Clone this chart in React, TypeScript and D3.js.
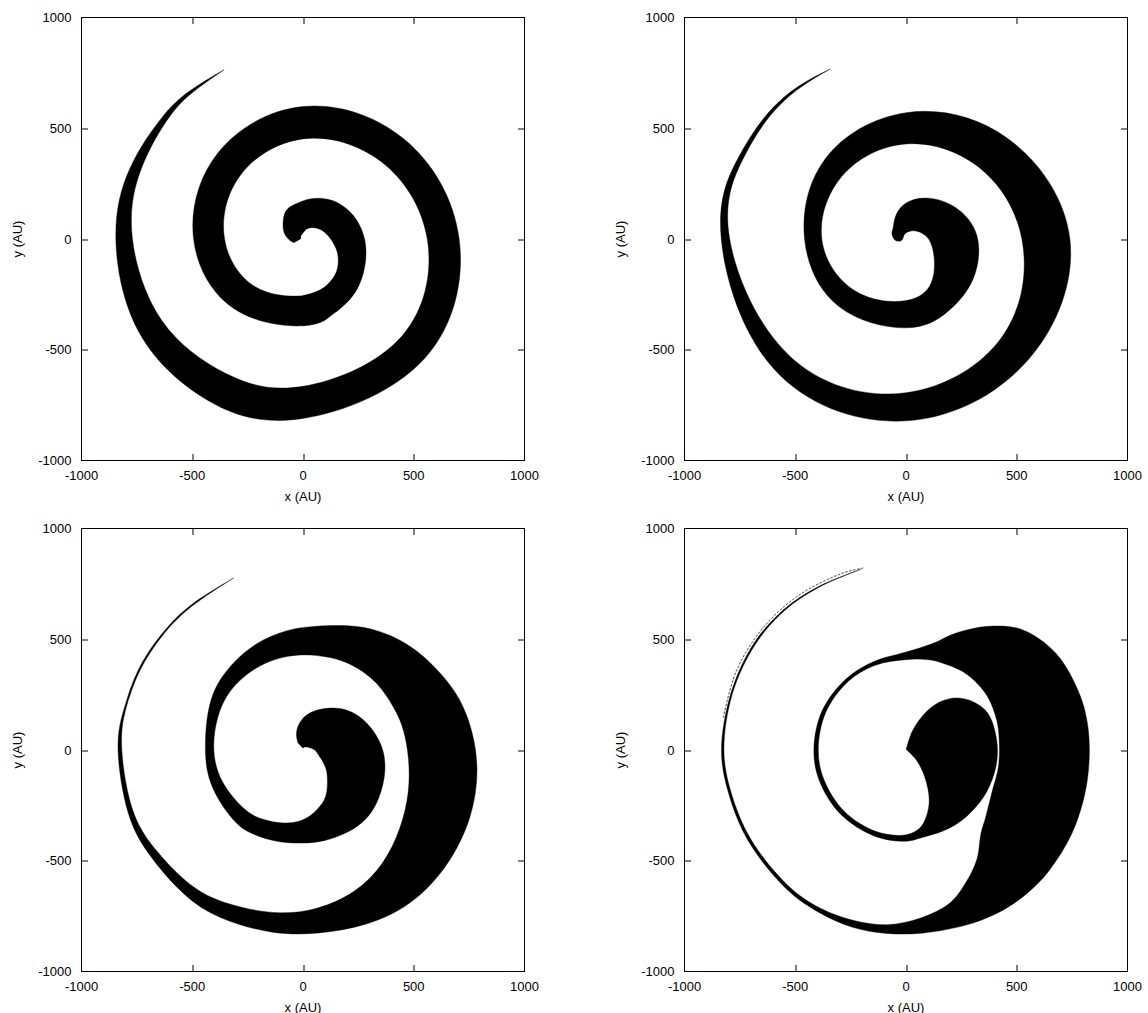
import React from "react";
import * as d3 from "d3";

// Axis setup shared by the four panels
const AXIS_TICKS = [-1000, -500, 0, 500, 1000];
const AXIS_DOMAIN = [-1000, 1000];
const X_TITLE = "x (AU)";
const Y_TITLE = "y (AU)";

// Spiral arm edges in polar form: angle in degrees clockwise from +y,
// accumulating over turns; inner / outer edge radius in AU.

// Panel A (top left)
const armAAngle = [-112, -95, -75, -55, -30, 0, 20, 43, 66, 90, 113, 135, 158, 180, 225, 270, 315, 360, 405, 450, 495, 540, 570, 600, 630, 652, 670, 682, 695];
const armAInner = [44, 14, 10, 12, 18, 27, 48, 70, 95, 125, 170, 212, 240, 256, 305, 354, 403, 452, 496, 561, 626, 665, 700, 736, 770, 795, 813, 828, 843];
const armAOuter = [44, 60, 85, 110, 150, 172, 196, 226, 252, 278, 304, 336, 364, 392, 443, 494, 546, 598, 641, 705, 770, 810, 846, 852, 845, 844, 840, 842, 843];

// Panel B (top right)
const armBAngle = [-112, -95, -70, -48, -25, 0, 28, 57, 87, 120, 150, 180, 225, 270, 315, 360, 405, 450, 495, 540, 585, 630, 655, 672, 685, 696];
const armBInner = [27, 16, 14, 15, 20, 27, 40, 63, 98, 145, 228, 278, 329, 380, 405, 429, 461, 523, 618, 694, 745, 796, 820, 828, 834, 840];
const armBOuter = [27, 50, 68, 78, 112, 162, 209, 264, 320, 352, 378, 401, 430, 458, 514, 570, 645, 740, 776, 821, 837, 834, 842, 843, 843, 840];

// Panel C (bottom left)
const armCAngle = [-35, -17, 6, 30, 48, 67, 88, 108, 127, 141, 154, 167, 180, 195, 210, 225, 250, 275, 300, 320, 337, 352, 365, 380, 393, 408, 425, 439, 455, 472, 489, 505, 520, 535, 550, 566, 580, 596, 611, 630, 643, 656, 669, 682, 698];
const armCInner = [40, 12, 10, 15, 20, 28, 50, 74, 126, 175, 233, 277, 315, 341, 361, 375, 392, 404, 418, 424, 427, 428, 430, 437, 443, 448, 452, 462, 478, 512, 562, 624, 678, 717, 745, 771, 792, 803, 815, 818, 821, 819, 818, 820, 837];
const armCOuter = [40, 94, 159, 217, 268, 312, 356, 386, 411, 422, 421, 420, 420, 428, 440, 445, 442, 442, 475, 501, 524, 543, 560, 597, 637, 678, 722, 757, 788, 812, 830, 842, 836, 829, 834, 843, 843, 839, 838, 835, 829, 827, 825, 827, 837];

// Panel D (bottom right)
const armDAngle = [12, 19, 28, 35, 44, 54, 66, 84, 100, 118, 134, 145, 155, 163, 170, 180, 200, 225, 250, 270, 295, 320, 340, 360, 374, 383, 394, 404, 417, 432, 444, 460, 476, 490, 498, 507, 516, 524, 535, 546, 557, 568, 580, 600, 617, 630, 648, 665, 679, 692, 706];
const armDInner = [3, 3, 3, 3, 3, 3, 3, 3, 4, 10, 65, 147, 248, 314, 358, 383, 392, 393, 394, 396, 400, 405, 407, 408, 420, 426, 435, 440, 440, 431, 423, 424, 432, 470, 506, 588, 659, 719, 761, 793, 805, 812, 812, 808, 813, 822, 824, 831, 835, 833, 841];
const armDOuter = [3, 96, 196, 265, 327, 372, 405, 412, 413, 410, 406, 405, 402, 400, 402, 412, 414, 414, 415, 416, 418, 420, 425, 442, 495, 573, 674, 755, 805, 823, 828, 830, 838, 845, 847, 846, 840, 833, 830, 833, 836, 832, 828, 822, 825, 833, 831, 839, 841, 837, 841];

// Faint companion streak beside the outermost part of panel D's arm
const trailDAngle = [640, 655, 670, 685, 700, 707];
const trailDRadius = [838, 845, 849, 850, 848, 844];

const FONT = "'Liberation Sans', Arial, Helvetica, sans-serif";
const SIZE = 443;

type Row = { deg: number; a: number; r0: number; r1: number };
type Segment = { min: number; max: number; curve: d3.CurveFactory };

const catmull = d3.curveCatmullRom.alpha(0.5);

function Panel(props: {
  left: number;
  top: number;
  angle: number[];
  inner: number[];
  outer: number[];
  segments: Segment[];
  trailAngle?: number[];
  trailRadius?: number[];
}) {
  const { left, top, angle, inner, outer, segments, trailAngle, trailRadius } = props;
  const x = d3.scaleLinear().domain(AXIS_DOMAIN).range([0, SIZE]);
  const y = d3.scaleLinear().domain(AXIS_DOMAIN).range([SIZE, 0]);
  const rad = (v: number) => x(v) - x(0);

  const rows: Row[] = angle.map((a, i) => ({
    deg: a,
    a: (a * Math.PI) / 180,
    r0: inner[i],
    r1: outer[i],
  }));

  // each stretch of the arm is drawn with its own interpolation; stretches overlap slightly
  const paths = segments.map((s) => {
    const area = d3
      .areaRadial<Row>()
      .angle((d) => d.a)
      .innerRadius((d) => rad(d.r0))
      .outerRadius((d) => rad(d.r1))
      .curve(s.curve);
    return area(rows.filter((r) => r.deg >= s.min && r.deg <= s.max)) || "";
  });

  let trailPath: string | null = null;
  if (trailAngle && trailRadius) {
    const pts = trailAngle.map((a, i) => ({ a: (a * Math.PI) / 180, r: trailRadius[i] }));
    trailPath = d3
      .lineRadial<{ a: number; r: number }>()
      .angle((d) => d.a)
      .radius((d) => rad(d.r))
      .curve(catmull)(pts);
  }

  const tickLen = 6.5;
  const innerTicks = AXIS_TICKS.filter((t) => t > -1000 && t < 1000);
  const clipId = `clip-${left}-${top}`.replace(/\./g, "_");

  return (
    <g transform={`translate(${left},${top})`}>
      <defs>
        <clipPath id={clipId}>
          <rect x={0} y={0} width={SIZE} height={SIZE} />
        </clipPath>
      </defs>
      <g clipPath={`url(#${clipId})`}>
        <g transform={`translate(${x(0)},${y(0)})`}>
          {paths.map((d, i) => (
            <path key={i} d={d} fill="#000" stroke="#000" strokeWidth={0.4} />
          ))}
          {trailPath && (
            <path d={trailPath} fill="none" stroke="#000" strokeWidth={0.7} strokeDasharray="2.5 1.5" />
          )}
        </g>
      </g>
      {/* ticks on all four sides, pointing inward */}
      {innerTicks.map((t) => (
        <g key={`t${t}`} stroke="#000" strokeWidth={1}>
          <line x1={Math.round(x(t)) + 0.5} x2={Math.round(x(t)) + 0.5} y1={SIZE} y2={SIZE - tickLen} />
          <line x1={Math.round(x(t)) + 0.5} x2={Math.round(x(t)) + 0.5} y1={0} y2={tickLen} />
          <line y1={Math.round(y(t)) + 0.5} y2={Math.round(y(t)) + 0.5} x1={0} x2={tickLen} />
          <line y1={Math.round(y(t)) + 0.5} y2={Math.round(y(t)) + 0.5} x1={SIZE} x2={SIZE - tickLen} />
        </g>
      ))}
      <rect x={0} y={0} width={SIZE} height={SIZE} fill="none" stroke="#000" strokeWidth={1} />
      {/* tick labels and axis titles */}
      <g fontFamily={FONT} fontSize={13} fill="#000">
        {AXIS_TICKS.map((t) => (
          <text key={`xl${t}`} x={x(t)} y={SIZE + 19} textAnchor="middle">
            {t}
          </text>
        ))}
        {AXIS_TICKS.map((t) => (
          <text key={`yl${t}`} x={-10} y={y(t) + 4.5} textAnchor="end">
            {t}
          </text>
        ))}
        <text x={SIZE / 2} y={SIZE + 40} textAnchor="middle">
          {X_TITLE}
        </text>
        <text transform={`translate(${-60},${SIZE / 2}) rotate(-90)`} textAnchor="middle">
          {Y_TITLE}
        </text>
      </g>
    </g>
  );
}

const WHOLE_NATURAL: Segment[] = [{ min: -Infinity, max: Infinity, curve: d3.curveNatural }];
const WHOLE_CATMULL: Segment[] = [{ min: -Infinity, max: Infinity, curve: catmull }];
const SPLIT_A: Segment[] = [
  { min: -Infinity, max: 180, curve: catmull },
  { min: 158, max: Infinity, curve: d3.curveNatural },
];

export default function App() {
  return (
    <svg
      width={1148}
      height={1013}
      style={{ position: "absolute", left: 0, top: 0, background: "#fff" }}
    >
      <rect x={0} y={0} width={1148} height={1013} fill="#fff" />
      <Panel left={81.5} top={17.5} angle={armAAngle} inner={armAInner} outer={armAOuter} segments={SPLIT_A} />
      <Panel left={684.5} top={17.5} angle={armBAngle} inner={armBInner} outer={armBOuter} segments={WHOLE_NATURAL} />
      <Panel left={81.5} top={528.5} angle={armCAngle} inner={armCInner} outer={armCOuter} segments={WHOLE_NATURAL} />
      <Panel
        left={684.5}
        top={528.5}
        angle={armDAngle}
        inner={armDInner}
        outer={armDOuter}
        segments={WHOLE_CATMULL}
        trailAngle={trailDAngle}
        trailRadius={trailDRadius}
      />
    </svg>
  );
}
